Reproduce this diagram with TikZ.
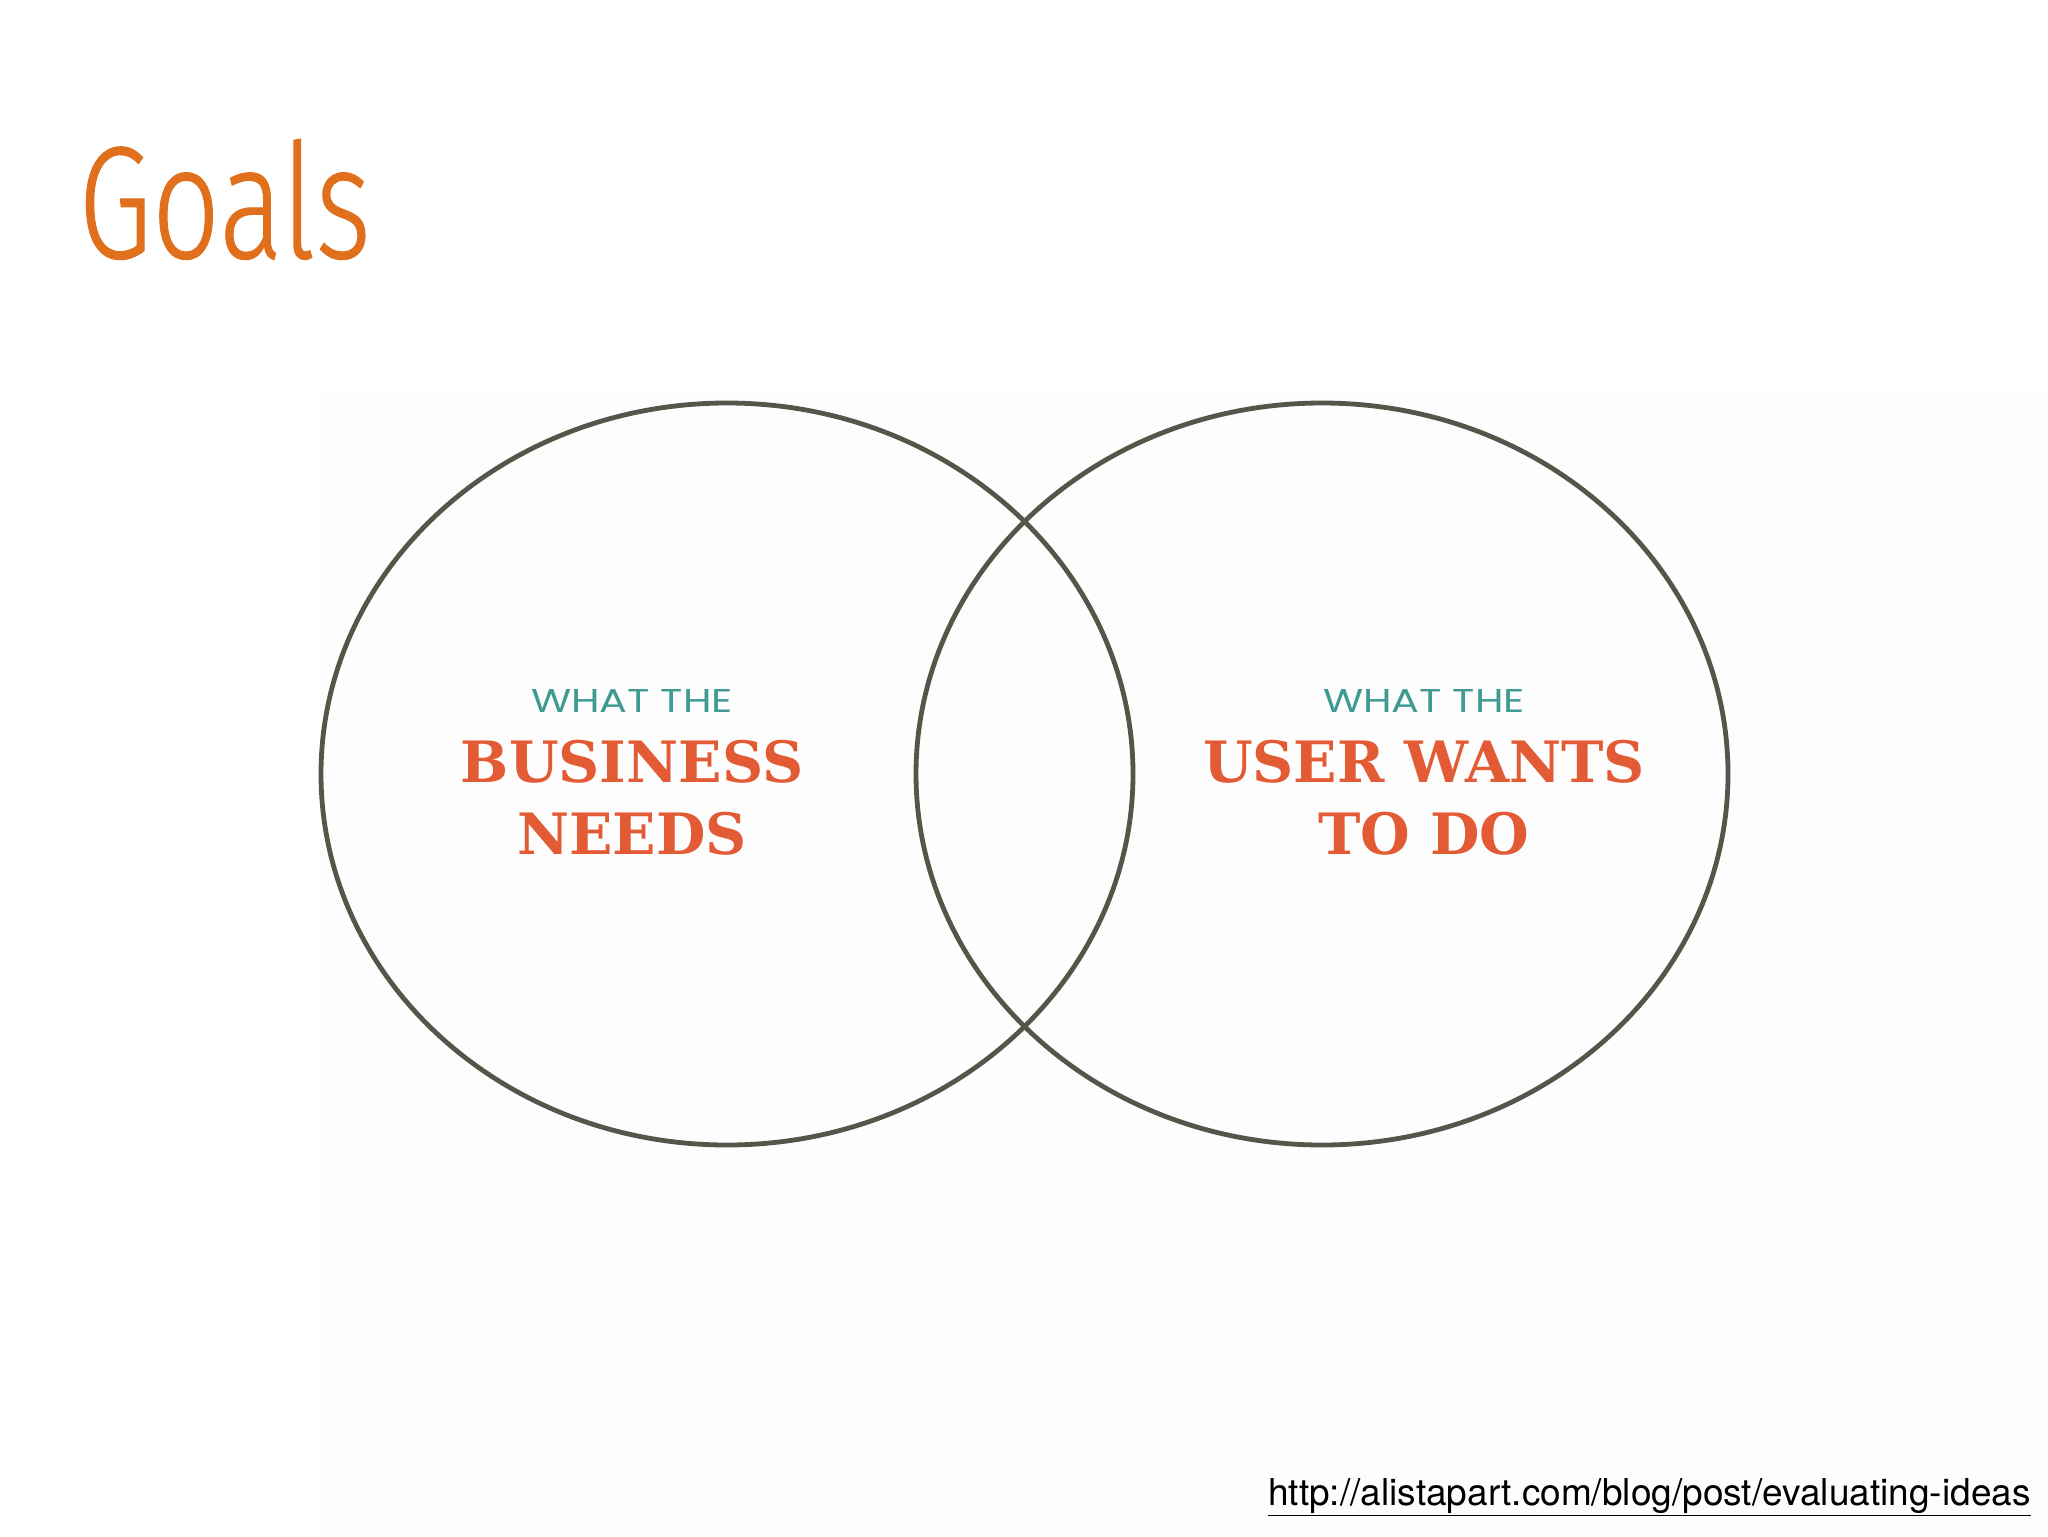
\documentclass[tikz,border=0pt]{standalone}
\usepackage{fontspec}
\usetikzlibrary{shapes.geometric}
\setmainfont{DejaVu Serif}
\newfontfamily\titlefont[FakeStretch=0.745,FakeBold=0.6]{Fira Sans Light}
\newfontfamily\slabfont{DejaVu Serif}
\newfontfamily\thinfont[FakeStretch=1.25]{Poppins}
\newfontfamily\urlfont{TeX Gyre Heros}
\definecolor{titleorange}{HTML}{E0701C}
\definecolor{slabred}{HTML}{E25B35}
\definecolor{tealtext}{HTML}{3F9A92}
\definecolor{ringgray}{HTML}{56554A}
\definecolor{boxbg}{HTML}{FEFDFD}
\tikzset{
  ring/.style={ellipse, draw=ringgray, line width=2.4pt, minimum width=406pt, minimum height=371pt, inner sep=0pt},
  small/.style={text=tealtext, font=\thinfont\fontsize{16.5}{18}\selectfont, inner sep=0pt},
  big/.style={text=slabred, font=\slabfont\bfseries\fontsize{28.5}{28}\selectfont, inner sep=0pt, align=center}
}
\begin{document}
\begin{tikzpicture}[x=0.5pt,y=-0.5pt]
\useasboundingbox (0,0) rectangle (2048,1536);
\fill[white] (0,0) rectangle (2048,1536);
\fill[boxbg] (320,395) rectangle (2048,1536);
\node[anchor=base west, text=titleorange, font=\titlefont\fontsize{80}{82}\selectfont, inner sep=0pt] (title) at (78,258) {Goals};
\node[ring] (left) at (727,774) {};
\node[ring] (right) at (1322,774) {};
\node[small, anchor=base] (lwhat) at (632,712) {WHAT THE};
\node[big, anchor=base] (lbiz) at (632,782) {BUSINESS};
\node[big, anchor=base] (lneeds) at (632,854) {NEEDS};
\node[small, anchor=base] (rwhat) at (1424,712) {WHAT THE};
\node[big, anchor=base] (ruser) at (1424,782) {USER WANTS};
\node[big, anchor=base] (rdo) at (1424,854) {TO DO};
\node[anchor=base east, font=\urlfont\fontsize{18.5}{20}\selectfont, inner sep=0pt] (url) at (2031,1505) {\underline{http://alistapart.com/blog/post/evaluating-ideas}};
\end{tikzpicture}
\end{document}
